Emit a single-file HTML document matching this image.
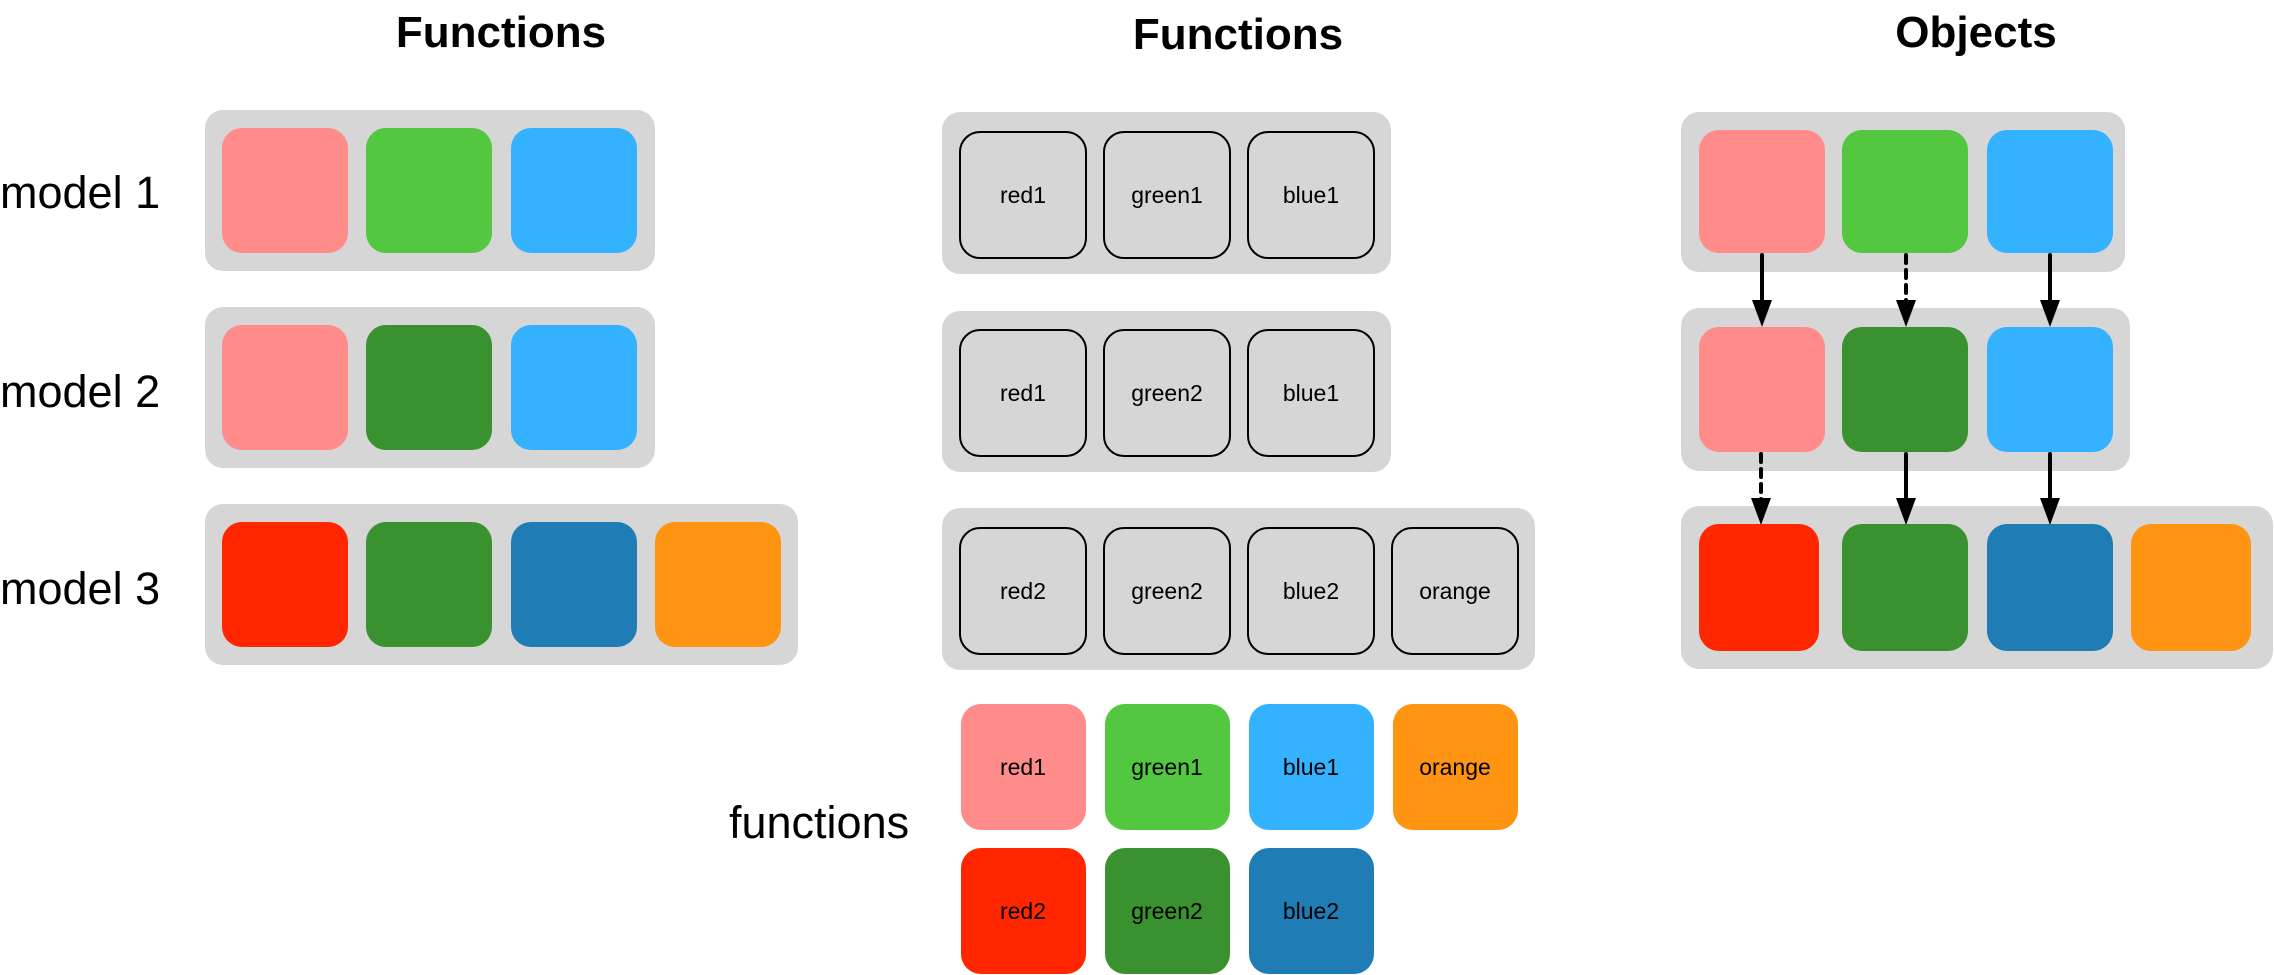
<!DOCTYPE html>
<html><head><meta charset="utf-8"><style>
html,body{margin:0;padding:0;background:#fff;}
svg{display:block;}
text{font-family:"Liberation Sans",Arial,sans-serif;}
</style></head><body>
<svg width="2275" height="975" viewBox="0 0 2275 975" xmlns="http://www.w3.org/2000/svg">
<defs>
<marker id="ah" markerWidth="20" markerHeight="27" refX="10" refY="27" orient="auto" markerUnits="userSpaceOnUse" viewBox="0 0 20 27">
</marker>
</defs>
<!-- Titles -->
<text x="501" y="47" font-size="44" font-weight="bold" text-anchor="middle">Functions</text>
<text x="1238" y="49" font-size="44" font-weight="bold" text-anchor="middle">Functions</text>
<text x="1976" y="47" font-size="44" font-weight="bold" text-anchor="middle">Objects</text>

<!-- Left labels -->
<text x="0" y="208" font-size="45">model 1</text>
<text x="0" y="407" font-size="45">model 2</text>
<text x="0" y="604" font-size="45">model 3</text>

<!-- Left column -->
<g>
<rect x="205" y="110" width="450" height="161" rx="18" fill="#d6d6d6"/>
<rect x="205" y="307" width="450" height="161" rx="18" fill="#d6d6d6"/>
<rect x="205" y="504" width="593" height="161" rx="18" fill="#d6d6d6"/>
<rect x="222" y="128" width="126" height="125" rx="20" fill="#ff8c8a"/>
<rect x="366" y="128" width="126" height="125" rx="20" fill="#52c73f"/>
<rect x="511" y="128" width="126" height="125" rx="20" fill="#35b2ff"/>
<rect x="222" y="325" width="126" height="125" rx="20" fill="#ff8c8a"/>
<rect x="366" y="325" width="126" height="125" rx="20" fill="#3a9130"/>
<rect x="511" y="325" width="126" height="125" rx="20" fill="#35b2ff"/>
<rect x="222" y="522" width="126" height="125" rx="20" fill="#ff2600"/>
<rect x="366" y="522" width="126" height="125" rx="20" fill="#3a9130"/>
<rect x="511" y="522" width="126" height="125" rx="20" fill="#1f7cb4"/>
<rect x="655" y="522" width="126" height="125" rx="20" fill="#ff9312"/>
</g>

<!-- Middle column -->
<g font-size="23" text-anchor="middle">
<rect x="942" y="112" width="449" height="162" rx="18" fill="#d6d6d6"/>
<rect x="942" y="311" width="449" height="161" rx="18" fill="#d6d6d6"/>
<rect x="942" y="508" width="593" height="162" rx="18" fill="#d6d6d6"/>
<g fill="#d6d6d6" stroke="#000" stroke-width="2">
<rect x="960" y="132" width="126" height="126" rx="20"/>
<rect x="1104" y="132" width="126" height="126" rx="20"/>
<rect x="1248" y="132" width="126" height="126" rx="20"/>
<rect x="960" y="330" width="126" height="126" rx="20"/>
<rect x="1104" y="330" width="126" height="126" rx="20"/>
<rect x="1248" y="330" width="126" height="126" rx="20"/>
<rect x="960" y="528" width="126" height="126" rx="20"/>
<rect x="1104" y="528" width="126" height="126" rx="20"/>
<rect x="1248" y="528" width="126" height="126" rx="20"/>
<rect x="1392" y="528" width="126" height="126" rx="20"/>
</g>
<text x="1023" y="203">red1</text>
<text x="1167" y="203">green1</text>
<text x="1311" y="203">blue1</text>
<text x="1023" y="401">red1</text>
<text x="1167" y="401">green2</text>
<text x="1311" y="401">blue1</text>
<text x="1023" y="599">red2</text>
<text x="1167" y="599">green2</text>
<text x="1311" y="599">blue2</text>
<text x="1455" y="599">orange</text>
</g>

<!-- Bottom functions -->
<text x="729" y="838" font-size="45">functions</text>
<g font-size="23" text-anchor="middle">
<rect x="961" y="704" width="125" height="126" rx="20" fill="#ff8c8a"/>
<rect x="1105" y="704" width="125" height="126" rx="20" fill="#52c73f"/>
<rect x="1249" y="704" width="125" height="126" rx="20" fill="#35b2ff"/>
<rect x="1393" y="704" width="125" height="126" rx="20" fill="#ff9312"/>
<rect x="961" y="848" width="125" height="126" rx="20" fill="#ff2600"/>
<rect x="1105" y="848" width="125" height="126" rx="20" fill="#3a9130"/>
<rect x="1249" y="848" width="125" height="126" rx="20" fill="#1f7cb4"/>
<text x="1023" y="775">red1</text>
<text x="1167" y="775">green1</text>
<text x="1311" y="775">blue1</text>
<text x="1455" y="775">orange</text>
<text x="1023" y="919">red2</text>
<text x="1167" y="919">green2</text>
<text x="1311" y="919">blue2</text>
</g>

<!-- Right column -->
<g>
<rect x="1681" y="112" width="444" height="160" rx="18" fill="#d6d6d6"/>
<rect x="1681" y="308" width="449" height="163" rx="18" fill="#d6d6d6"/>
<rect x="1681" y="506" width="592" height="163" rx="18" fill="#d6d6d6"/>
<rect x="1699" y="130" width="126" height="123" rx="20" fill="#ff8c8a"/>
<rect x="1842" y="130" width="126" height="123" rx="20" fill="#52c73f"/>
<rect x="1987" y="130" width="126" height="123" rx="20" fill="#35b2ff"/>
<rect x="1699" y="327" width="126" height="125" rx="20" fill="#ff8c8a"/>
<rect x="1842" y="327" width="126" height="125" rx="20" fill="#3a9130"/>
<rect x="1987" y="327" width="126" height="125" rx="20" fill="#35b2ff"/>
<rect x="1699" y="524" width="120" height="127" rx="20" fill="#ff2600"/>
<rect x="1842" y="524" width="126" height="127" rx="20" fill="#3a9130"/>
<rect x="1987" y="524" width="126" height="127" rx="20" fill="#1f7cb4"/>
<rect x="2131" y="524" width="120" height="127" rx="20" fill="#ff9312"/>
</g>

<!-- Arrows -->
<g stroke="#000" stroke-width="4" fill="none" stroke-linecap="round">
<line x1="1762" y1="255" x2="1762" y2="302"/>
<line x1="1906" y1="255" x2="1906" y2="302" stroke-dasharray="8 7"/>
<line x1="2050" y1="255" x2="2050" y2="302"/>
<line x1="1761" y1="454" x2="1761" y2="500" stroke-dasharray="8 7"/>
<line x1="1906" y1="454" x2="1906" y2="500"/>
<line x1="2050" y1="454" x2="2050" y2="500"/>
</g>
<g fill="#000">
<polygon points="1752,300 1772,300 1762,327"/>
<polygon points="1896,300 1916,300 1906,327"/>
<polygon points="2040,300 2060,300 2050,327"/>
<polygon points="1751,498 1771,498 1761,525"/>
<polygon points="1896,498 1916,498 1906,525"/>
<polygon points="2040,498 2060,498 2050,525"/>
</g>
</svg>
</body></html>
